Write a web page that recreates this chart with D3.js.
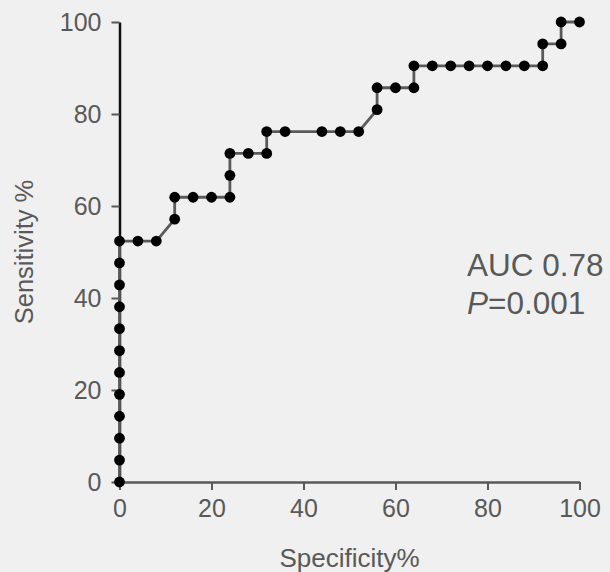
<!DOCTYPE html>
<html>
<head>
<meta charset="utf-8">
<script src="https://cdn.jsdelivr.net/npm/d3@7"></script>
<style>
html,body{margin:0;padding:0;background:#f0f0f0;}
svg{display:block;}
text{font-family:"Liberation Sans",Arial,sans-serif;fill:#595959;}
</style>
</head>
<body>
<svg id="chart" width="610" height="572"></svg>
<script>
// ROC curve points (specificity %, sensitivity %)
const specificity = [0,0,0,0,0,0,0,0,0,0,0,0,4,8,12,12,16,20,24,24,24,28,32,32,36,44,48,52,56,56,60,64,64,68,72,76,80,84,88,92,92,96,96,100];
const sensitivity = [0,4.76,9.52,14.29,19.05,23.81,28.57,33.33,38.10,42.86,47.62,52.38,52.38,52.38,57.14,61.90,61.90,61.90,61.90,66.67,71.43,71.43,71.43,76.19,76.19,76.19,76.19,76.19,80.95,85.71,85.71,85.71,90.48,90.48,90.48,90.48,90.48,90.48,90.48,90.48,95.24,95.24,100,100];
const xTicks = [0,20,40,60,80,100];
const yTicks = [0,20,40,60,80,100];
const annotationAUC = "AUC 0.78";
const annotationP = ["P", "=0.001"];

const data = specificity.map((s,i)=>({x:s,y:sensitivity[i]}));

const svg = d3.select("#chart");
const x = d3.scaleLinear().domain([0,100]).range([119.5,579.5]);
const y = d3.scaleLinear().domain([0,100]).range([482,22]);

// X axis
const gx = svg.append("g").attr("transform",`translate(0,${y(0)})`)
  .call(d3.axisBottom(x).tickValues(xTicks).tickSize(8).tickPadding(9).tickSizeOuter(0));
gx.select(".domain").attr("stroke","#595959").attr("stroke-width",2.5);
gx.selectAll(".tick line").attr("stroke","#595959").attr("stroke-width",2);
gx.selectAll(".tick text").attr("font-size",25).style("fill","#595959").attr("font-family","Liberation Sans, Arial, sans-serif");

// Y axis
const gy = svg.append("g").attr("transform",`translate(${x(0)},0)`)
  .call(d3.axisLeft(y).tickValues(yTicks).tickSize(8).tickPadding(10).tickSizeOuter(0));
gy.select(".domain").attr("stroke","#111").attr("stroke-width",2.5);
gy.selectAll(".tick line").attr("stroke","#595959").attr("stroke-width",2);
gy.selectAll(".tick text").attr("font-size",25).style("fill","#595959").attr("font-family","Liberation Sans, Arial, sans-serif");

// Line
svg.append("path").datum(data)
  .attr("fill","none").attr("stroke","#5a5a5a").attr("stroke-width",2.8)
  .attr("d",d3.line().x(d=>x(d.x)).y(d=>y(d.y)));

// Points
svg.append("g").selectAll("circle").data(data).join("circle")
  .attr("cx",d=>x(d.x)).attr("cy",d=>y(d.y)).attr("r",5.4).attr("fill","#000");

// Axis titles
svg.append("text").attr("x",(x(0)+x(100))/2).attr("y",566.5).attr("text-anchor","middle")
  .attr("font-size",26).text("Specificity%");
svg.append("text").attr("transform",`translate(33,${(y(0)+y(100))/2}) rotate(-90)`).attr("text-anchor","middle")
  .attr("font-size",25.5).text("Sensitivity %");

// Annotation
svg.append("text").attr("x",467).attr("y",276).attr("font-size",31.5).text(annotationAUC);
const pt = svg.append("text").attr("x",467).attr("y",314).attr("font-size",31.5);
pt.append("tspan").attr("font-style","italic").text(annotationP[0]);
pt.append("tspan").text(annotationP[1]);
</script>
</body>
</html>
